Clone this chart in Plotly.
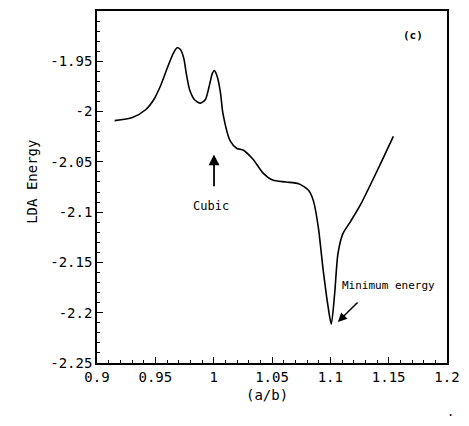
import plotly.graph_objects as go

# data
ratio = [0.9151, 0.9304, 0.9417, 0.9486, 0.9542, 0.9612, 0.9654, 0.9687, 0.9715, 0.9744,
         0.9765, 0.9794, 0.9836, 0.9886, 0.9928, 0.9961, 0.9989, 1.0006, 1.0031, 1.0059,
         1.0079, 1.0143, 1.0199, 1.0255, 1.0339, 1.0422, 1.0506, 1.0618, 1.0729, 1.0813,
         1.0855, 1.0897, 1.0939, 1.0981, 1.1008, 1.1037, 1.1065, 1.1106, 1.1177, 1.1261,
         1.1400, 1.1540]
energy = [-2.0090, -2.0058, -1.9982, -1.9883, -1.9751, -1.9537, -1.9422, -1.9366, -1.9383, -1.9471,
          -1.9620, -1.9784, -1.9883, -1.9916, -1.9883, -1.9751, -1.9620, -1.9593, -1.9653, -1.9818,
          -2.0015, -2.0295, -2.0367, -2.0384, -2.0476, -2.0609, -2.0681, -2.0700, -2.0717, -2.0783,
          -2.0888, -2.1152, -2.1580, -2.1943, -2.2114, -2.1811, -2.1415, -2.1218, -2.1086, -2.0921,
          -2.0592, -2.0246]

x_tickvals = [0.9, 0.95, 1.0, 1.05, 1.1, 1.15, 1.2]
x_ticktext = ["0.9", "0.95", "1", "1.05", "1.1", "1.15", "1.2"]
y_tickvals = [-1.95, -2.0, -2.05, -2.1, -2.15, -2.2, -2.25]
y_ticktext = ["-1.95", "-2", "-2.05", "-2.1", "-2.15", "-2.2", "-2.25"]

FONT = "DejaVu Sans Mono"

fig = go.Figure()
fig.add_trace(go.Scatter(x=ratio, y=energy, mode="lines",
                         line=dict(color="black", width=1.6, shape="spline", smoothing=0.7),
                         showlegend=False, hoverinfo="skip"))

axis_common = dict(showgrid=False, zeroline=False, showline=True, linecolor="black",
                   linewidth=1.6, mirror=True, ticks="inside", ticklen=6, tickwidth=1.3,
                   tickcolor="black",
                   tickfont=dict(family=FONT, size=14, color="black"))

fig.update_xaxes(range=[0.9, 1.2], tickvals=x_tickvals, ticktext=x_ticktext,
                 minor=dict(ticks="inside", ticklen=3, tickwidth=1, tickcolor="black", dtick=0.01,
                            tick0=0.9),
                 **axis_common)
fig.update_yaxes(range=[-2.25, -1.90], tickvals=y_tickvals, ticktext=y_ticktext,
                 minor=dict(ticks="inside", ticklen=3, tickwidth=1, tickcolor="black", dtick=0.01,
                            tick0=-2.25),
                 **axis_common)

ann = [
    dict(text="LDA Energy", x=-0.215, y=0.514, xref="paper", yref="paper", showarrow=False,
         textangle=-90, font=dict(family=FONT, size=14, color="black")),
    dict(text="(a/b)", x=0.486, y=-0.119, xref="paper", yref="paper", showarrow=False,
         font=dict(family=FONT, size=14, color="black")),
    dict(text="<b>(c)</b>", x=0.9385, y=0.955, xref="paper", yref="paper", showarrow=False,
         font=dict(family=FONT, size=11, color="black")),
    dict(text="Cubic", x=0.9975, y=-2.0938, xref="x", yref="y", showarrow=False,
         font=dict(family=FONT, size=12, color="black")),
    dict(text="", x=1.0003, y=-2.0427, ax=1.0003, ay=-2.0757, xref="x", yref="y",
         axref="x", ayref="y", showarrow=True, arrowhead=2, arrowsize=1.2, arrowwidth=1.8,
         arrowcolor="black"),
    dict(text="Minimum energy", x=1.1079, y=-2.1729, xref="x", yref="y", showarrow=False,
         xanchor="left", font=dict(family=FONT, size=11, color="black")),
    dict(text="", x=1.1065, y=-2.2092, ax=1.1246, ay=-2.1884, xref="x", yref="y",
         axref="x", ayref="y", showarrow=True, arrowhead=2, arrowsize=1.2, arrowwidth=1.5,
         arrowcolor="black"),
    dict(text=".", x=1.0265, y=-0.165, xref="paper", yref="paper", showarrow=False,
         font=dict(family=FONT, size=12, color="black")),
]

fig.update_layout(width=469, height=426, margin=dict(l=97, r=14, t=9, b=63),
                  paper_bgcolor="white", plot_bgcolor="white", annotations=ann,
                  font=dict(family=FONT, color="black"))

fig.write_html("out.html", config={"displayModeBar": False},
               post_script="document.body.style.margin='0px';")
